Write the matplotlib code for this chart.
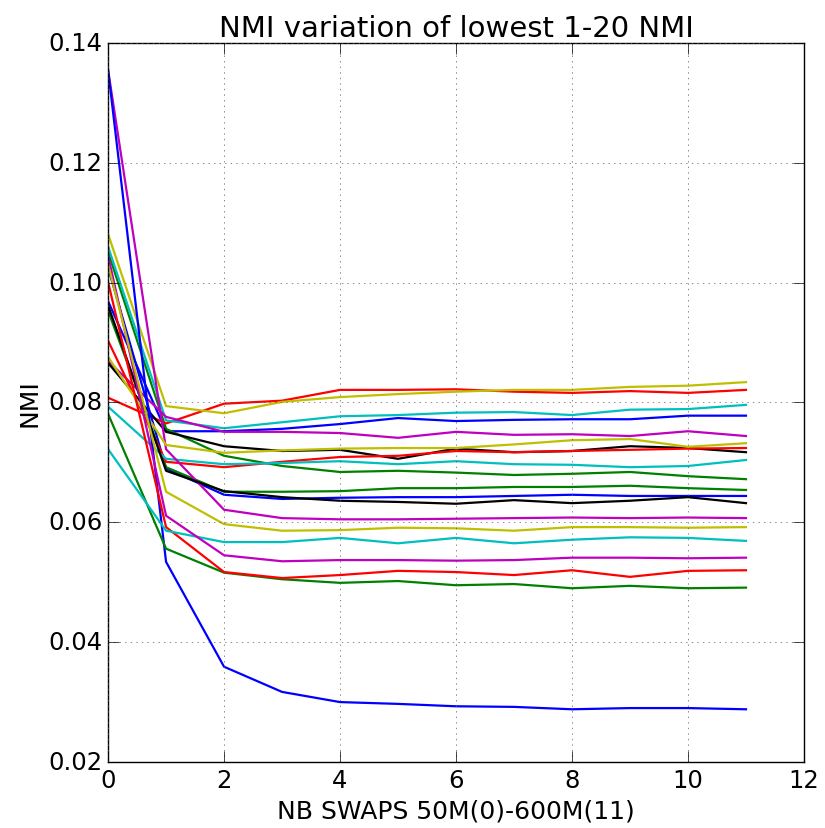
import numpy as np
import matplotlib
matplotlib.use('Agg')
import matplotlib.pyplot as plt

plt.style.use('classic')

# x positions: number of swaps step 0..11
swaps = np.arange(12)

# NMI curves, in colour-cycle order b g r c m y k
blue_a = [0.0969, 0.0752, 0.0752, 0.0756, 0.0764, 0.0774, 0.0769, 0.0771, 0.0772, 0.0772, 0.0778, 0.0778]
green_a = [0.1051, 0.0756, 0.0711, 0.0694, 0.0684, 0.0686, 0.0683, 0.0679, 0.0681, 0.0684, 0.0677, 0.0672]
red_a = [0.0808, 0.0765, 0.0798, 0.0803, 0.0821, 0.0821, 0.0822, 0.0818, 0.0816, 0.0819, 0.0816, 0.0821]
cyan_a = [0.1060, 0.0770, 0.0757, 0.0767, 0.0777, 0.0779, 0.0783, 0.0784, 0.0779, 0.0788, 0.0789, 0.0796]
magenta_a = [0.0869, 0.0776, 0.0751, 0.0751, 0.0749, 0.0741, 0.0751, 0.0746, 0.0747, 0.0744, 0.0752, 0.0744]
yellow_a = [0.1081, 0.0794, 0.0782, 0.0801, 0.0809, 0.0814, 0.0818, 0.0821, 0.0821, 0.0826, 0.0828, 0.0834]
black_a = [0.0866, 0.0751, 0.0727, 0.0719, 0.0721, 0.0706, 0.0723, 0.0717, 0.0719, 0.0727, 0.0724, 0.0717]

blue_b = [0.1025, 0.0690, 0.0646, 0.0639, 0.0641, 0.0642, 0.0642, 0.0644, 0.0646, 0.0644, 0.0644, 0.0644]
green_b = [0.0953, 0.0692, 0.0651, 0.0651, 0.0652, 0.0657, 0.0657, 0.0659, 0.0659, 0.0661, 0.0657, 0.0654]
red_b = [0.0903, 0.0701, 0.0692, 0.0701, 0.0709, 0.0711, 0.0719, 0.0717, 0.0719, 0.0721, 0.0723, 0.0724]
cyan_b = [0.0793, 0.0706, 0.0697, 0.0699, 0.0702, 0.0697, 0.0702, 0.0697, 0.0696, 0.0692, 0.0694, 0.0704]
magenta_b = [0.1355, 0.0722, 0.0621, 0.0607, 0.0605, 0.0605, 0.0606, 0.0607, 0.0608, 0.0607, 0.0608, 0.0607]
yellow_b = [0.0876, 0.0729, 0.0716, 0.0720, 0.0723, 0.0724, 0.0724, 0.0730, 0.0737, 0.0739, 0.0726, 0.0732]
black_b = [0.0962, 0.0686, 0.0652, 0.0642, 0.0636, 0.0634, 0.0631, 0.0637, 0.0632, 0.0636, 0.0642, 0.0632]

blue_c = [0.1355, 0.0534, 0.0359, 0.0317, 0.0300, 0.0297, 0.0293, 0.0292, 0.0288, 0.0290, 0.0290, 0.0288]
green_c = [0.0781, 0.0556, 0.0516, 0.0505, 0.0499, 0.0502, 0.0495, 0.0497, 0.0490, 0.0494, 0.0490, 0.0491]
red_c = [0.1001, 0.0592, 0.0517, 0.0507, 0.0512, 0.0519, 0.0517, 0.0512, 0.0520, 0.0509, 0.0519, 0.0520]
cyan_c = [0.0722, 0.0586, 0.0567, 0.0567, 0.0574, 0.0565, 0.0574, 0.0565, 0.0571, 0.0575, 0.0574, 0.0569]
magenta_c = [0.1045, 0.0611, 0.0545, 0.0535, 0.0537, 0.0537, 0.0536, 0.0537, 0.0541, 0.0541, 0.0540, 0.0541]
yellow_c = [0.1030, 0.0651, 0.0597, 0.0586, 0.0587, 0.0591, 0.0590, 0.0586, 0.0592, 0.0592, 0.0591, 0.0592]

curves = [blue_a, green_a, red_a, cyan_a, magenta_a, yellow_a, black_a,
          blue_b, green_b, red_b, cyan_b, magenta_b, yellow_b, black_b,
          blue_c, green_c, red_c, cyan_c, magenta_c, yellow_c]

fig = plt.figure(figsize=(8.25, 8.29), dpi=100, facecolor='white')
ax = fig.add_axes([0.131, 0.0796, 0.8435, 0.8674])

for c in curves:
    ax.plot(swaps, c, linewidth=1.6)

ax.set_xlim(0, 12)
ax.set_ylim(0.02, 0.14)
ax.set_yticks(np.arange(0.02, 0.141, 0.02))
ax.grid(True, color='0.35')
ax.tick_params(labelsize=17.5, length=8)
ax.set_title('NMI variation of lowest 1-20 NMI', fontsize=21)
ax.set_xlabel('NB SWAPS 50M(0)-600M(11)', fontsize=18)
ax.set_ylabel('NMI', fontsize=18)

fig.savefig('out.png', dpi=100, facecolor='white')
